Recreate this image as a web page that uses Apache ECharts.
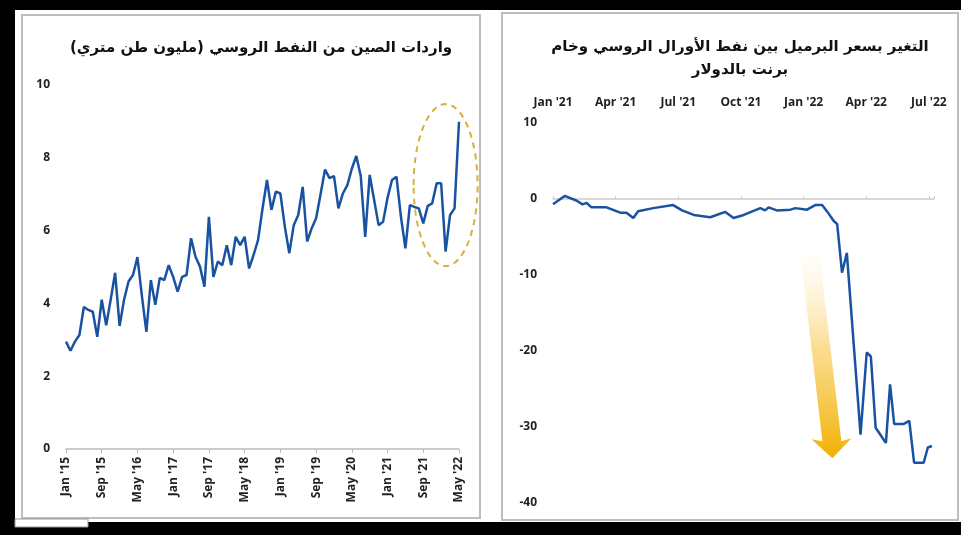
<!DOCTYPE html>
<html>
<head>
<meta charset="utf-8">
<script src="https://cdn.jsdelivr.net/npm/echarts@6/dist/echarts.min.js"></script>
<style>
html, body { margin: 0; padding: 0; background: #000; }
#chart { width: 961px; height: 535px; }
</style>
</head>
<body>
<div id="chart"></div>
<script>
// left chart: monthly imports Jan 2015 .. May 2022 (million tonnes)
const monthNames = ['Jan', 'Feb', 'Mar', 'Apr', 'May', 'Jun', 'Jul', 'Aug', 'Sep', 'Oct', 'Nov', 'Dec']
const importValues = [
  2.95, 2.7, 2.95, 3.13, 3.9, 3.82, 3.77, 3.08, 4.1, 3.4, 4.1, 4.84,
  3.38, 4.1, 4.6, 4.78, 5.27, 4.2, 3.22, 4.64, 3.96, 4.7, 4.64, 5.05,
  4.73, 4.32, 4.73, 4.78, 5.79, 5.28, 5.01, 4.46, 6.38, 4.73, 5.15, 5.05,
  5.6, 5.05, 5.83, 5.6, 5.83, 4.96, 5.33, 5.74, 6.6, 7.39, 6.57, 7.07,
  7.02, 6.11, 5.38, 6.15, 6.43, 7.2, 5.7, 6.06, 6.34, 7.0, 7.68, 7.44,
  7.5, 6.61, 7.02, 7.25, 7.7, 8.05, 7.5, 5.83, 7.53, 6.84, 6.15, 6.24,
  6.9, 7.39, 7.48, 6.38, 5.51, 6.7, 6.65, 6.61, 6.2, 6.68, 6.75, 7.3,
  7.3, 5.42, 6.43, 6.61, 8.99
]
const importTicks = [0, 2, 4, 6, 8, 10]

// right chart: Urals - Brent spread, USD per barrel
const spreadDates = [
  '2021-01-01', '2021-01-18', '2021-02-04', '2021-02-13', '2021-02-19', '2021-02-26',
  '2021-03-20', '2021-04-09', '2021-04-18', '2021-04-28', '2021-05-05', '2021-05-27',
  '2021-06-25', '2021-07-08', '2021-07-25', '2021-08-18', '2021-09-09', '2021-09-21',
  '2021-10-06', '2021-10-30', '2021-11-06', '2021-11-11', '2021-11-23', '2021-12-13',
  '2021-12-20', '2022-01-06', '2022-01-18', '2022-01-28', '2022-02-04', '2022-02-14',
  '2022-02-19', '2022-02-26', '2022-03-05', '2022-03-25', '2022-04-03', '2022-04-09',
  '2022-04-16', '2022-05-01', '2022-05-07', '2022-05-13', '2022-05-27', '2022-06-04',
  '2022-06-11', '2022-06-25', '2022-07-01', '2022-07-07'
]
const spreadValues = [
  -0.7, 0.4, -0.2, -0.7, -0.5, -1.1,
  -1.1, -1.8, -1.8, -2.5, -1.6, -1.2,
  -0.8, -1.5, -2.1, -2.4, -1.7, -2.5,
  -2.1, -1.2, -1.5, -1.1, -1.5, -1.4,
  -1.2, -1.4, -0.8, -0.8, -1.6, -2.9,
  -3.3, -9.7, -7.1, -31, -20.2, -20.7,
  -30.1, -32.1, -24.4, -29.6, -29.6, -29.2,
  -34.7, -34.7, -32.7, -32.5
]
const spreadStart = '2021-01-01'
const spreadEnd = '2022-07-10'
const spreadTicks = [-40, -30, -20, -10, 0, 10]

const leftTitle = 'واردات الصين من النفط الروسي (مليون طن متري)'
const rightTitle = 'التغير بسعر البرميل بين نفط الأورال الروسي وخام\nبرنت بالدولار'

const DAY = 86400000
const QUARTER = 91.25

function toTime (s) {
  const p = s.split('-').map(Number)
  return new Date(p[0], p[1] - 1, p[2]).getTime()
}
function toDay (s) {
  return Math.round((toTime(s) - toTime(spreadStart)) / DAY)
}
function monthLabel (d) {
  return `${monthNames[d.getMonth()]} '${String(d.getFullYear()).slice(2)}`
}
function quarterLabel (v) {
  const r = v / QUARTER
  if (Math.abs(r - Math.round(r)) > 0.01) return ''
  const d = new Date(toTime(spreadStart) + Math.round(v) * DAY)
  if (d.getDate() > 15) d.setMonth(d.getMonth() + 1)
  return monthLabel(d)
}

const importCategories = importValues.map((v, i) => monthLabel(new Date(2015, i, 1)))
const spreadData = spreadDates.map((d, i) => [toDay(d), spreadValues[i]])

const labelFont = {
  color: '#222',
  fontSize: 12,
  fontWeight: 'bold',
  fontFamily: 'Open Sans'
}
const titleFont = {
  color: '#111',
  fontSize: 15,
  fontWeight: 'bold',
  fontFamily: 'DejaVu Sans'
}

const chart = echarts.init(document.getElementById('chart'))

chart.setOption({
  animation: false,
  backgroundColor: '#000',
  title: [
    {
      text: leftTitle,
      left: 256,
      top: 36,
      textAlign: 'center',
      textStyle: titleFont
    },
    {
      text: rightTitle,
      left: 735,
      top: 31,
      textAlign: 'center',
      textStyle: Object.assign({}, titleFont, { lineHeight: 23 })
    }
  ],
  grid: [
    { left: 66, right: 502, top: 85, bottom: 86 },
    { left: 553, right: 27, top: 123, bottom: 32 }
  ],
  xAxis: [
    {
      gridIndex: 0,
      type: 'category',
      data: importCategories,
      boundaryGap: false,
      axisLine: { onZero: false, lineStyle: { color: '#bbb', width: 1.5 } },
      axisTick: { interval: 7, length: 4, lineStyle: { color: '#bbb' } },
      axisLabel: Object.assign({ interval: 7, rotate: 90, margin: 8 }, labelFont),
      splitLine: { show: false }
    },
    {
      gridIndex: 1,
      type: 'value',
      position: 'top',
      min: 0,
      max: toDay(spreadEnd),
      interval: QUARTER,
      axisLine: { show: false, onZero: false },
      axisTick: { show: false },
      axisLabel: Object.assign({ margin: 14, formatter: quarterLabel }, labelFont),
      splitLine: { show: false }
    },
    {
      gridIndex: 1,
      type: 'value',
      position: 'bottom',
      min: 0,
      max: toDay(spreadEnd),
      interval: QUARTER,
      axisLine: { onZero: true, onZeroAxisIndex: 1, lineStyle: { color: '#ccc', width: 1.5 } },
      axisTick: { length: 3, inside: true, lineStyle: { color: '#ccc' } },
      axisLabel: { show: false },
      splitLine: { show: false }
    }
  ],
  yAxis: [
    {
      gridIndex: 0,
      type: 'value',
      min: importTicks[0],
      max: importTicks[importTicks.length - 1],
      interval: 2,
      axisLine: { show: false },
      axisTick: { show: false },
      axisLabel: Object.assign({ margin: 16 }, labelFont),
      splitLine: { show: false }
    },
    {
      gridIndex: 1,
      type: 'value',
      min: spreadTicks[0],
      max: spreadTicks[spreadTicks.length - 1],
      interval: 10,
      axisLine: { show: false, onZero: false },
      axisTick: { show: false },
      axisLabel: Object.assign({ margin: 16 }, labelFont),
      splitLine: { show: false }
    }
  ],
  series: [
    {
      type: 'line',
      xAxisIndex: 0,
      yAxisIndex: 0,
      data: importValues,
      showSymbol: false,
      lineStyle: { color: '#1a52a2', width: 2.5 }
    },
    {
      type: 'line',
      xAxisIndex: 1,
      yAxisIndex: 1,
      data: spreadData,
      showSymbol: false,
      z: 3,
      lineStyle: { color: '#1a52a2', width: 2.5 }
    }
  ]
})

// frame + annotations, placed from the axes
const ell = chart.convertToPixel({ xAxisIndex: 0, yAxisIndex: 0 }, [85.4, 7.25])
const tip = chart.convertToPixel({ xAxisIndex: 1, yAxisIndex: 1 }, [toDay('2022-02-12'), -34.1])
const arrowPts = [[-32, -204], [-13, -204], [9, -17], [19, -20], [0, 0], [-21, -19], [-10, -17]]
  .map(([dx, dy]) => [tip[0] + dx, tip[1] + dy])

chart.setOption({
  graphic: [
    { type: 'rect', z: -10, silent: true, shape: { x: 15, y: 10, width: 946, height: 512 }, style: { fill: '#fff' } },
    { type: 'rect', z: -9, silent: true, shape: { x: 22, y: 15, width: 458, height: 503 }, style: { fill: '#fff', stroke: '#bdbdbd', lineWidth: 2 } },
    { type: 'rect', z: -9, silent: true, shape: { x: 502, y: 13, width: 456, height: 507 }, style: { fill: '#fff', stroke: '#bdbdbd', lineWidth: 2 } },
    { type: 'rect', z: -9, silent: true, shape: { x: 15, y: 519, width: 73, height: 8 }, style: { fill: '#fff', stroke: '#999', lineWidth: 1 } },
    {
      type: 'ellipse',
      z: 10,
      silent: true,
      shape: { cx: ell[0], cy: ell[1], rx: 32, ry: 81 },
      style: { fill: 'none', stroke: '#d8b03c', lineWidth: 2, lineDash: [6, 5] }
    },
    {
      type: 'polygon',
      z: 10,
      silent: true,
      shape: { points: arrowPts },
      style: {
        fill: {
          type: 'linear', x: 0, y: 0, x2: 0, y2: 1,
          colorStops: [
            { offset: 0, color: 'rgba(255,240,200,0.1)' },
            { offset: 0.45, color: 'rgba(250,210,110,0.75)' },
            { offset: 1, color: '#f2b000' }
          ]
        }
      }
    }
  ]
})
</script>
</body>
</html>
